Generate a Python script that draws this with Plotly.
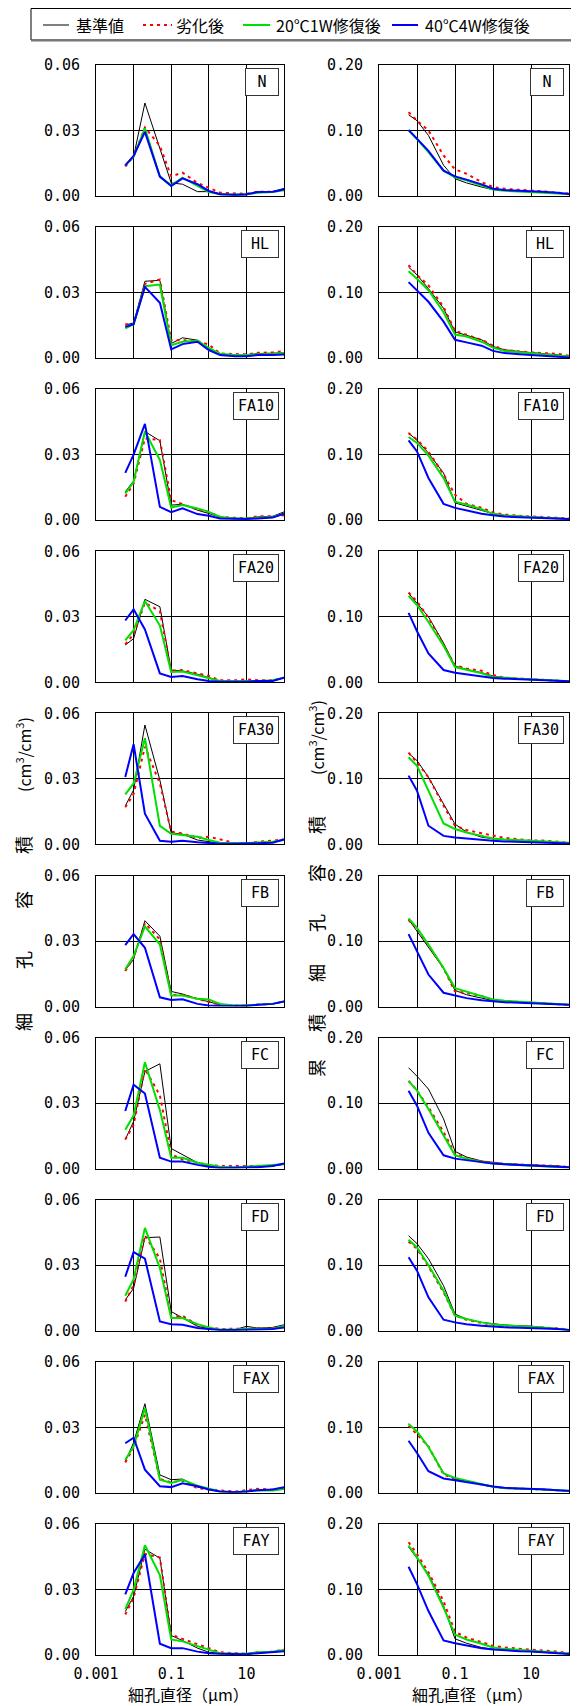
import plotly.graph_objects as go
from plotly.subplots import make_subplots

W, H = 579, 1706
OFF = 8  # the page's default body margin shifts the figure by this much

# pore diameter (um) of the measured points
XS = [0.006, 0.01, 0.02, 0.05, 0.1, 0.2, 0.5, 1, 2, 5, 10, 20, 50, 100]
SPECIMENS = ['N', 'HL', 'FA10', 'FA20', 'FA30', 'FB', 'FC', 'FD', 'FAX', 'FAY']
SERIES = ['基準値', '劣化後', '20℃1W修復後', '40℃4W修復後']

# 細孔容積 (cm3/cm3): rows = 基準値, 劣化後, 20℃1W修復後, 40℃4W修復後
N_dist = [
    [0.014, 0.018, 0.0426, 0.022, 0.006, 0.0054, 0.002, 0.002, 0.001, 0.0005, 0.0005, 0.002, 0.002, 0.0035],
    [0.0135, 0.018, 0.0314, 0.023, 0.009, 0.0107, 0.006, 0.0038, 0.0015, 0.0012, 0.001, 0.002, 0.002, 0.003],
    [0.014, 0.018, 0.031, 0.0089, 0.0049, 0.0084, 0.0046, 0.0018, 0.0008, 0.0006, 0.0008, 0.0015, 0.0018, 0.0026],
    [0.014, 0.0184, 0.0294, 0.0089, 0.0046, 0.0081, 0.0054, 0.0023, 0.0008, 0.0006, 0.0008, 0.0018, 0.002, 0.003],
]
HL_dist = [
    [0.0151, 0.0161, 0.0352, 0.0356, 0.0067, 0.0093, 0.0082, 0.0044, 0.0017, 0.0014, 0.0014, 0.0021, 0.0021, 0.0024],
    [0.0155, 0.0155, 0.034, 0.036, 0.0082, 0.0082, 0.0078, 0.0062, 0.0021, 0.0017, 0.0017, 0.0024, 0.0026, 0.0032],
    [0.0136, 0.0155, 0.0329, 0.0337, 0.0059, 0.0075, 0.0079, 0.0047, 0.002, 0.0014, 0.0014, 0.0018, 0.0019, 0.0023],
    [0.0143, 0.0155, 0.0326, 0.0253, 0.004, 0.0064, 0.0075, 0.0037, 0.0014, 0.0009, 0.0009, 0.0014, 0.0014, 0.0017],
]
FA10_dist = [
    [0.013, 0.018, 0.0406, 0.0364, 0.0069, 0.0073, 0.0046, 0.0031, 0.0015, 0.0008, 0.0008, 0.0015, 0.0018, 0.0038],
    [0.0107, 0.0168, 0.0375, 0.0367, 0.0092, 0.0073, 0.0049, 0.0038, 0.0015, 0.0011, 0.0009, 0.0018, 0.0018, 0.0023],
    [0.0122, 0.0176, 0.0406, 0.0276, 0.0058, 0.0069, 0.0054, 0.0038, 0.0015, 0.0008, 0.0008, 0.0012, 0.0015, 0.003],
    [0.0217, 0.030, 0.0441, 0.0061, 0.0037, 0.0054, 0.0028, 0.002, 0.0008, 0.0005, 0.0005, 0.0008, 0.0012, 0.003],
]
FA20_dist = [
    [0.0171, 0.020, 0.038, 0.0346, 0.0056, 0.0052, 0.0037, 0.0021, 0.0006, 0.0005, 0.0006, 0.0006, 0.0006, 0.0021],
    [0.0174, 0.022, 0.0364, 0.0326, 0.0052, 0.0056, 0.0041, 0.0029, 0.0009, 0.0009, 0.0014, 0.0009, 0.0009, 0.0021],
    [0.0192, 0.0239, 0.0372, 0.026, 0.0047, 0.0049, 0.0032, 0.0018, 0.0006, 0.0005, 0.0005, 0.0006, 0.0009, 0.0021],
    [0.0283, 0.0334, 0.0242, 0.0041, 0.0024, 0.0029, 0.0014, 0.0006, 0.0002, 0.0002, 0.0003, 0.0006, 0.0006, 0.0021],
]
FA30_dist = [
    [0.0176, 0.0249, 0.0547, 0.0294, 0.0053, 0.0047, 0.002, 0.0012, 0.0005, 0.0005, 0.0005, 0.0008, 0.0012, 0.0023],
    [0.017, 0.023, 0.0447, 0.0279, 0.0058, 0.005, 0.003, 0.0035, 0.0023, 0.0005, 0.0005, 0.0012, 0.0017, 0.0023],
    [0.0229, 0.0279, 0.0486, 0.0085, 0.0049, 0.0044, 0.0035, 0.002, 0.0008, 0.0005, 0.0005, 0.0009, 0.0012, 0.002],
    [0.0309, 0.0459, 0.0141, 0.0017, 0.0012, 0.0017, 0.001, 0.0006, 0.0003, 0.0003, 0.0003, 0.0005, 0.0008, 0.0023],
]
FB_dist = [
    [0.0166, 0.0216, 0.0393, 0.0322, 0.0069, 0.0057, 0.0035, 0.002, 0.0008, 0.0005, 0.0005, 0.0008, 0.0012, 0.0023],
    [0.0163, 0.0224, 0.0382, 0.0307, 0.0053, 0.0054, 0.0035, 0.0023, 0.0008, 0.0005, 0.0005, 0.0009, 0.0012, 0.0023],
    [0.0171, 0.0231, 0.0367, 0.0284, 0.005, 0.005, 0.0035, 0.0032, 0.0012, 0.0005, 0.0005, 0.0008, 0.0012, 0.0023],
    [0.0281, 0.0332, 0.0269, 0.0042, 0.003, 0.0033, 0.0012, 0.0005, 0.0002, 0.0002, 0.0002, 0.0008, 0.0012, 0.0023],
]
FC_dist = [
    [0.0133, 0.0216, 0.0445, 0.048, 0.0092, 0.0065, 0.0027, 0.0012, 0.0005, 0.0005, 0.0008, 0.0008, 0.0012, 0.002],
    [0.0133, 0.020, 0.0457, 0.0336, 0.0065, 0.0042, 0.0027, 0.0017, 0.0012, 0.0012, 0.0012, 0.0012, 0.0012, 0.002],
    [0.0178, 0.0243, 0.0487, 0.0268, 0.005, 0.005, 0.0027, 0.0017, 0.0008, 0.0005, 0.0008, 0.0012, 0.0015, 0.002],
    [0.0264, 0.0384, 0.0344, 0.005, 0.0032, 0.0032, 0.0017, 0.0008, 0.0003, 0.0003, 0.0003, 0.0006, 0.0012, 0.0024],
]
FD_dist = [
    [0.0141, 0.0194, 0.0426, 0.0429, 0.0088, 0.006, 0.002, 0.0009, 0.0005, 0.0005, 0.002, 0.0012, 0.0015, 0.0027],
    [0.0133, 0.0209, 0.0436, 0.033, 0.0065, 0.0068, 0.0027, 0.0015, 0.0008, 0.0008, 0.0009, 0.0012, 0.0012, 0.002],
    [0.016, 0.0236, 0.0471, 0.0288, 0.0058, 0.0058, 0.003, 0.0015, 0.0005, 0.0005, 0.0009, 0.0009, 0.0009, 0.002],
    [0.0247, 0.036, 0.033, 0.0042, 0.003, 0.0027, 0.0012, 0.0008, 0.0003, 0.0003, 0.0003, 0.0006, 0.0008, 0.0015],
]
FAX_dist = [
    [0.0142, 0.023, 0.0408, 0.0082, 0.006, 0.0063, 0.0026, 0.0015, 0.0006, 0.0003, 0.0006, 0.0014, 0.0015, 0.0021],
    [0.0139, 0.0207, 0.0358, 0.0063, 0.0048, 0.0056, 0.0021, 0.0015, 0.0011, 0.0006, 0.0011, 0.0018, 0.0015, 0.0021],
    [0.0151, 0.0212, 0.0388, 0.006, 0.0045, 0.006, 0.0033, 0.0018, 0.0006, 0.0003, 0.0006, 0.0011, 0.0011, 0.0018],
    [0.0227, 0.0252, 0.0106, 0.003, 0.0026, 0.0044, 0.003, 0.0015, 0.0006, 0.0003, 0.0006, 0.0012, 0.0015, 0.0026],
]
FAY_dist = [
    [0.0198, 0.0268, 0.0484, 0.0443, 0.0089, 0.0066, 0.0031, 0.0012, 0.0008, 0.0005, 0.0005, 0.0008, 0.0012, 0.002],
    [0.0185, 0.0262, 0.0462, 0.0446, 0.0092, 0.0074, 0.0051, 0.0031, 0.0012, 0.0008, 0.0005, 0.0012, 0.0015, 0.0025],
    [0.021, 0.0298, 0.0502, 0.0366, 0.0071, 0.0062, 0.004, 0.0025, 0.0008, 0.0005, 0.0005, 0.0012, 0.0015, 0.0022],
    [0.0277, 0.0375, 0.046, 0.0051, 0.0031, 0.0031, 0.0015, 0.0008, 0.0005, 0.0003, 0.0003, 0.0008, 0.0012, 0.0017],
]

# 累積細孔容積 (cm3/cm3), same row order
N_cum = [
    [0.124, 0.115, 0.0925, 0.047, 0.0264, 0.020, 0.0137, 0.0097, 0.0086, 0.0076, 0.007, 0.006, 0.0046, 0.0025],
    [0.128, 0.115, 0.100, 0.062, 0.0406, 0.034, 0.0213, 0.0137, 0.011, 0.0097, 0.0086, 0.007, 0.005, 0.0036],
    [0.100, 0.087, 0.067, 0.0386, 0.0284, 0.024, 0.016, 0.010, 0.008, 0.007, 0.0066, 0.0056, 0.004, 0.0025],
    [0.101, 0.088, 0.069, 0.0386, 0.030, 0.025, 0.0178, 0.011, 0.009, 0.008, 0.0076, 0.0066, 0.005, 0.003],
]
HL_cum = [
    [0.139, 0.127, 0.106, 0.076, 0.040, 0.035, 0.028, 0.0177, 0.0127, 0.010, 0.0086, 0.0076, 0.005, 0.0025],
    [0.142, 0.127, 0.111, 0.078, 0.0415, 0.036, 0.028, 0.019, 0.0127, 0.010, 0.0086, 0.0076, 0.0066, 0.0035],
    [0.1326, 0.121, 0.1037, 0.070, 0.036, 0.033, 0.025, 0.016, 0.011, 0.009, 0.0076, 0.0066, 0.005, 0.0025],
    [0.116, 0.1037, 0.086, 0.0557, 0.028, 0.024, 0.019, 0.011, 0.0076, 0.006, 0.005, 0.004, 0.0025, 0.001],
]
FA10_cum = [
    [0.133, 0.122, 0.1026, 0.072, 0.0264, 0.021, 0.015, 0.010, 0.0076, 0.006, 0.005, 0.0046, 0.0036, 0.002],
    [0.133, 0.123, 0.105, 0.070, 0.039, 0.025, 0.019, 0.012, 0.0086, 0.0066, 0.0056, 0.005, 0.004, 0.0025],
    [0.127, 0.118, 0.0985, 0.0645, 0.0284, 0.024, 0.017, 0.0097, 0.0071, 0.006, 0.005, 0.0046, 0.0036, 0.002],
    [0.122, 0.105, 0.0645, 0.025, 0.0188, 0.015, 0.010, 0.0076, 0.0056, 0.0046, 0.004, 0.0036, 0.003, 0.002],
]
FA20_cum = [
    [0.136, 0.12, 0.1, 0.060, 0.025, 0.0198, 0.0147, 0.0096, 0.007, 0.0056, 0.0046, 0.004, 0.003, 0.0015],
    [0.137, 0.1235, 0.0985, 0.058, 0.026, 0.021, 0.0177, 0.011, 0.007, 0.0056, 0.0046, 0.004, 0.003, 0.0015],
    [0.132, 0.118, 0.092, 0.0557, 0.0233, 0.0188, 0.0137, 0.008, 0.0066, 0.0056, 0.0046, 0.004, 0.003, 0.0015],
    [0.106, 0.078, 0.044, 0.0188, 0.0147, 0.0122, 0.0086, 0.0066, 0.0056, 0.0046, 0.004, 0.0035, 0.0025, 0.0015],
]
FA30_cum = [
    [0.139, 0.128, 0.1026, 0.062, 0.031, 0.019, 0.011, 0.0086, 0.0071, 0.006, 0.005, 0.004, 0.0035, 0.002],
    [0.14, 0.125, 0.1026, 0.059, 0.0285, 0.022, 0.017, 0.013, 0.010, 0.0076, 0.006, 0.006, 0.0046, 0.0025],
    [0.133, 0.12, 0.082, 0.032, 0.0235, 0.0183, 0.013, 0.009, 0.0076, 0.0066, 0.0056, 0.0046, 0.0036, 0.0025],
    [0.105, 0.082, 0.0285, 0.013, 0.0107, 0.009, 0.0071, 0.0056, 0.0046, 0.004, 0.0036, 0.003, 0.0025, 0.0015],
]
FB_cum = [
    [0.133, 0.115, 0.092, 0.058, 0.0246, 0.018, 0.0128, 0.0092, 0.0077, 0.0066, 0.0056, 0.005, 0.0036, 0.0025],
    [0.132, 0.119, 0.0936, 0.058, 0.023, 0.021, 0.0159, 0.0102, 0.0082, 0.0066, 0.0056, 0.005, 0.0036, 0.0025],
    [0.1345, 0.12, 0.0946, 0.0588, 0.0281, 0.023, 0.0169, 0.0107, 0.0087, 0.0076, 0.0066, 0.0056, 0.004, 0.0025],
    [0.1105, 0.0836, 0.0488, 0.021, 0.0169, 0.0128, 0.0097, 0.0077, 0.0066, 0.0056, 0.005, 0.0046, 0.0036, 0.0025],
]
FC_cum = [
    [0.154, 0.141, 0.1215, 0.0759, 0.0263, 0.0177, 0.0116, 0.0091, 0.0076, 0.0066, 0.006, 0.005, 0.004, 0.0025],
    [0.134, 0.119, 0.0937, 0.0557, 0.0228, 0.0162, 0.0111, 0.0086, 0.0071, 0.006, 0.0056, 0.005, 0.004, 0.0025],
    [0.134, 0.119, 0.091, 0.0506, 0.0203, 0.0152, 0.0101, 0.0076, 0.0066, 0.0056, 0.005, 0.004, 0.003, 0.0015],
    [0.119, 0.096, 0.0547, 0.0203, 0.0152, 0.0127, 0.0091, 0.0076, 0.0066, 0.0056, 0.005, 0.0046, 0.0035, 0.002],
]
FD_cum = [
    [0.145, 0.133, 0.110, 0.0687, 0.0254, 0.0178, 0.0127, 0.0102, 0.0087, 0.0076, 0.0071, 0.005, 0.0036, 0.0015],
    [0.136, 0.125, 0.098, 0.0585, 0.0229, 0.0168, 0.0117, 0.0092, 0.0076, 0.0066, 0.006, 0.005, 0.0036, 0.0015],
    [0.139, 0.127, 0.1, 0.061, 0.0229, 0.0178, 0.0127, 0.0097, 0.0081, 0.0071, 0.0066, 0.005, 0.003, 0.001],
    [0.112, 0.0916, 0.0509, 0.0168, 0.0127, 0.0097, 0.0076, 0.0061, 0.0051, 0.0046, 0.004, 0.0036, 0.0025, 0.001],
]
FAX_cum = [
    [0.105, 0.093, 0.070, 0.0304, 0.0213, 0.0177, 0.0127, 0.0091, 0.0071, 0.0066, 0.006, 0.005, 0.004, 0.0025],
    [0.1025, 0.0886, 0.0709, 0.0278, 0.0213, 0.0177, 0.0127, 0.0091, 0.0071, 0.0066, 0.006, 0.005, 0.004, 0.0025],
    [0.105, 0.0937, 0.070, 0.0294, 0.0228, 0.0187, 0.0137, 0.0091, 0.0071, 0.0066, 0.0056, 0.005, 0.004, 0.0025],
    [0.0795, 0.0608, 0.0329, 0.0218, 0.0192, 0.0167, 0.0127, 0.0096, 0.0076, 0.0066, 0.0066, 0.0056, 0.004, 0.003],
]
FAY_cum = [
    [0.165, 0.148, 0.1235, 0.075, 0.0246, 0.0179, 0.0113, 0.0087, 0.0072, 0.0062, 0.0051, 0.0041, 0.0031, 0.0015],
    [0.172, 0.154, 0.126, 0.082, 0.035, 0.0267, 0.0195, 0.0138, 0.0113, 0.0092, 0.0077, 0.0067, 0.0051, 0.0026],
    [0.167, 0.149, 0.121, 0.0722, 0.031, 0.0236, 0.017, 0.0113, 0.0092, 0.0077, 0.0067, 0.0056, 0.0041, 0.0021],
    [0.1345, 0.108, 0.067, 0.022, 0.0179, 0.0144, 0.0103, 0.0082, 0.0067, 0.0056, 0.0051, 0.0041, 0.0031, 0.0015],
]

DIST = [N_dist, HL_dist, FA10_dist, FA20_dist, FA30_dist, FB_dist, FC_dist, FD_dist, FAX_dist, FAY_dist]
CUM = [N_cum, HL_cum, FA10_cum, FA20_cum, FA30_cum, FB_cum, FC_cum, FD_cum, FAX_cum, FAY_cum]

LINES = [
    dict(color='black', width=1),
    dict(color='#ff0000', width=2, dash='3px,4px'),
    dict(color='#00e000', width=2),
    dict(color='#0000ff', width=2),
]

MONO = 'DejaVu Sans Mono, Liberation Mono, monospace'
CJK = 'Noto Sans CJK JP, Noto Sans, sans-serif'


def px(x):
    return (x - OFF) / W


def py(y):
    return 1 - (y - OFF) / H


fig = make_subplots(rows=10, cols=2)

for k in range(10):
    for c, block in enumerate([DIST[k], CUM[k]]):
        for s in range(4):
            fig.add_trace(go.Scatter(
                x=XS, y=block[s], mode='lines', name=SERIES[s],
                line=LINES[s], showlegend=False), row=k + 1, col=c + 1)

# panel geometry (page pixels)
COLS_PX = [(96, 284), (379, 569)]
TOP0, STEP, PH = 65, 162.1, 131

annotations = []
for k in range(10):
    top = TOP0 + STEP * k
    bot = top + PH
    for c in range(2):
        n = k * 2 + c + 1
        sfx = '' if n == 1 else str(n)
        x0, x1 = COLS_PX[c]
        last = (k == 9)
        fig.update_layout(**{
            f'xaxis{n}': dict(
                domain=[px(x0), px(x1)], type='log', range=[-3, 2],
                tickvals=[0.001, 0.1, 10], ticktext=['0.001', '0.1', '10'],
                showticklabels=last, ticks='', ticklabelstandoff=5,
                showgrid=True, gridcolor='black', gridwidth=1,
                minor=dict(tickvals=[0.01, 1], showgrid=True, gridcolor='black', gridwidth=1, ticks=''),
                showline=True, linecolor='black', linewidth=1, mirror=True,
                zeroline=False, automargin=False,
                tickfont=dict(family=MONO, size=15, color='black')),
            f'yaxis{n}': dict(
                domain=[py(bot), py(top)],
                range=[0, 0.06] if c == 0 else [0, 0.2],
                tickvals=[0, 0.03, 0.06] if c == 0 else [0, 0.1, 0.2],
                ticktext=['0.00', '0.03', '0.06'] if c == 0 else ['0.00', '0.10', '0.20'],
                ticks='', ticklabelstandoff=12,
                showgrid=True, gridcolor='black', gridwidth=1,
                showline=True, linecolor='black', linewidth=1, mirror=True,
                zeroline=False, automargin=False,
                tickfont=dict(family=MONO, size=15, color='black')),
        })
        name = SPECIMENS[k]
        bw = {1: 24, 2: 28}.get(len(name), 36)
        annotations.append(dict(
            text=name, xref=f'x{sfx} domain', yref=f'y{sfx} domain',
            x=1 - 5 / (x1 - x0), y=1 - 3 / PH, xanchor='right', yanchor='top',
            showarrow=False, width=bw, height=18, borderpad=4,
            bgcolor='white', bordercolor='#333', borderwidth=1,
            font=dict(family=MONO, size=15, color='black')))

# axis titles
for xc in (188, 472):
    annotations.append(dict(text='細孔直径（μm）', xref='paper', yref='paper',
                            x=px(xc), y=py(1694), xanchor='center', yanchor='middle',
                            showarrow=False, font=dict(family=CJK, size=16, color='black')))

left_title = [('細', 1022), ('孔', 960), ('容', 900), ('積', 845)]
right_title = [('累', 1068), ('積', 1023), ('細', 973), ('孔', 923), ('容', 873), ('積', 825)]
for xc, chars, unit_y in ((23, left_title, 755), (316, right_title, 738)):
    for ch, yc in chars:
        annotations.append(dict(text=ch, xref='paper', yref='paper', x=px(xc), y=py(yc),
                                xanchor='center', yanchor='middle', showarrow=False, textangle=-90,
                                font=dict(family=CJK, size=18, color='black')))
    annotations.append(dict(text='(cm<sup>3</sup>/cm<sup>3</sup>)', xref='paper', yref='paper',
                            x=px(xc), y=py(unit_y), xanchor='center', yanchor='middle',
                            showarrow=False, textangle=-90,
                            font=dict(family=CJK, size=16, color='black')))

# legend box with its line samples and labels
LEG_Y = 25
LEG_ITEMS = [(43, 69, 74), (143, 172, 174), (243, 270, 274), (392, 418, 423)]
shapes = [
    dict(type='rect', xref='paper', yref='paper', x0=px(31), x1=1.02,
         y0=py(40), y1=py(8.5), line=dict(color='black', width=1)),
    dict(type='line', xref='paper', yref='paper', x0=px(31), x1=1.02,
         y0=py(40.5), y1=py(40.5), line=dict(color='#777', width=2)),
]
for s, (lx0, lx1, tx) in enumerate(LEG_ITEMS):
    shapes.append(dict(type='line', xref='paper', yref='paper', x0=px(lx0), x1=px(lx1),
                       y0=py(LEG_Y), y1=py(LEG_Y), line=LINES[s]))
    annotations.append(dict(text=SERIES[s], xref='paper', yref='paper', x=px(tx), y=py(LEG_Y),
                            xanchor='left', yanchor='middle', showarrow=False,
                            font=dict(family=CJK, size=16, color='black')))

fig.update_layout(
    width=W, height=H, autosize=False,
    margin=dict(l=0, r=0, t=0, b=0, autoexpand=False),
    paper_bgcolor='white', plot_bgcolor='white',
    annotations=annotations, shapes=shapes, showlegend=False,
)

fig.write_html('out.html')
